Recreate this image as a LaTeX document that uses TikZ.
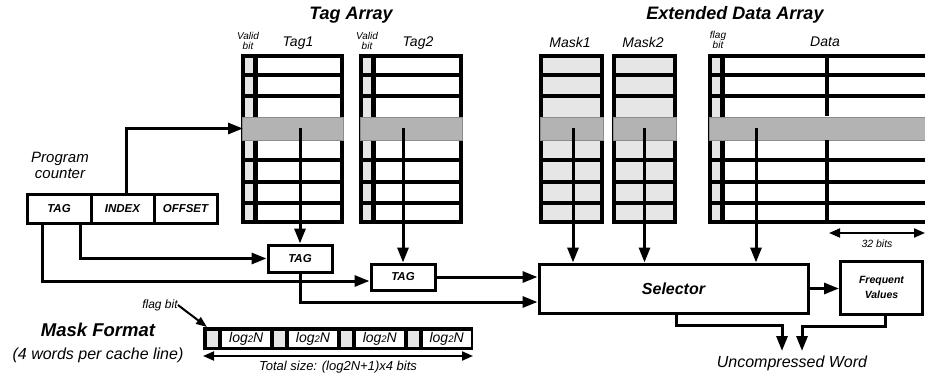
\documentclass[tikz,border=0pt]{standalone}
\usepackage{fontspec}
\setmainfont{Liberation Sans}
\usetikzlibrary{arrows.meta}
\definecolor{lg}{HTML}{E6E6E6}
\definecolor{bandg}{HTML}{B3B3B3}
\newcommand\fsz[1]{\fontsize{#1}{#1}\selectfont}
\newcommand\drawarr[5]{%
  \fill[#5] (#2,54) rectangle (#3,224);
  \ifnum#4=1\relax \fill[lg] (#2,54) rectangle ({#2+14},224);\fi
  \foreach \yy in {75.25,96.5,160.25,181.5,202.75} {\draw[rowline] (#2,\yy) -- (#3,\yy);}
  \ifnum#4=1\relax \draw[sepline] ({#2+14.5},54) -- ({#2+14.5},224);\fi
  \node[arrbox, minimum width={#3-#2-4}, minimum height=166] (#1) at ({(#2+#3)/2},139) {};
  \node[selband, minimum width={#3-#2-2}, minimum height=23] (#1band) at ({(#2+#3)/2},128.5) {};
}
\tikzset{
  rowline/.style={line width=4pt},
  sepline/.style={line width=5pt},
  arrbox/.style={draw, line width=4pt, inner sep=0pt, outer sep=0pt},
  selband/.style={fill=bandg, draw=black!45, line width=0.6pt, inner sep=0pt, outer sep=0pt},
  arrline/.style={line width=3pt, -{Triangle[length=15pt,width=11pt]}},
  dblarrow/.style={line width=2pt, {Triangle[length=11pt,width=9pt]}-{Triangle[length=11pt,width=9pt]}},
  thinarrow/.style={line width=2pt, -{Triangle[length=11pt,width=8pt]}},
  blkbox/.style={draw, line width=3pt, fill=white, inner sep=0pt},
  lbl/.style={inner sep=0pt, font=\itshape},
  title/.style={inner sep=0pt, font=\fsz{18}\bfseries\itshape},
}
\begin{document}
\begin{tikzpicture}[x=1pt,y=-1pt]
\useasboundingbox (0,0) rectangle (925,374);
\clip (0,0) rectangle (925,374);
\fill[white] (0,0) rectangle (925,374);

% titles
\node[title] (ttag) at (351,15) {Tag Array};
\node[title] (tdata) at (735,15) {Extended Data Array};

% column headers
\node[lbl, font=\fsz{14}\itshape] (h1) at (298,43) {Tag1};
\node[lbl, font=\fsz{14}\itshape] (h2) at (418,43) {Tag2};
\node[lbl, font=\fsz{14}\itshape] (h3) at (570,42) {Mask1};
\node[lbl, font=\fsz{14}\itshape] (h4) at (643,42) {Mask2};
\node[lbl, font=\fsz{14}\itshape] (h5) at (825,42) {Data};
\node[lbl, font=\fsz{10}\itshape, align=center] (v1) at (248,41) {Valid\\[0pt]bit};
\node[lbl, font=\fsz{10}\itshape, align=center] (v2) at (367,41) {Valid\\[0pt]bit};
\node[lbl, font=\fsz{10}\itshape, align=center] (v3) at (718,40) {flag\\[0pt]bit};

% arrays
\drawarr{tagone}{241}{344}{1}{white}
\drawarr{tagtwo}{359}{463}{1}{white}
\drawarr{maskone}{539}{604}{0}{lg}
\drawarr{masktwo}{612}{677}{0}{lg}
\drawarr{dataarr}{708}{945}{1}{white}
\draw[line width=4pt] (827,54) -- (827,116.5);
\draw[line width=4pt] (827,140.5) -- (827,224);

% program counter
\node[lbl, font=\fsz{15}\itshape, align=center] (pclbl) at (60,165) {Program\\[1pt]counter};
\node[blkbox, minimum width=64, minimum height=29, font=\fsz{11.5}\bfseries\itshape] (pctag) at (59,208.5) {TAG};
\node[blkbox, minimum width=63, minimum height=29, font=\fsz{11.5}\bfseries\itshape] (pcindex) at (122.5,208.5) {INDEX};
\node[blkbox, minimum width=63, minimum height=29, font=\fsz{11.5}\bfseries\itshape] (pcoffset) at (185.5,208.5) {OFFSET};

% compare boxes
\node[blkbox, minimum width=64, minimum height=27, font=\fsz{11.5}\bfseries\itshape] (tagA) at (300,258.5) {TAG};
\node[blkbox, minimum width=64, minimum height=26, font=\fsz{11.5}\bfseries\itshape] (tagB) at (403,277) {TAG};

% selector and frequent values
\node[blkbox, minimum width=269, minimum height=49, font=\fsz{16}\bfseries\itshape] (sel) at (673.5,288.5) {Selector};
\node[blkbox, minimum width=82, minimum height=53, font=\fsz{10.5}\bfseries\itshape, align=center] (freq) at (881.5,287.5) {Frequent\\[5pt]Values};

% connectors
\draw[arrline] ([xshift=3.5pt]pcindex.north) |- (tagone.west |- tagoneband.west);
\draw[arrline] ([xshift=-17pt]pctag.south) |- ([yshift=-4pt]tagB.west);
\draw[arrline] ([xshift=21pt]pctag.south) |- (tagA.west);
\draw[arrline] (tagoneband.center -| tagA.north) -- (tagA.north);
\draw[arrline] (tagtwoband.center -| tagB.north) -- (tagB.north);
\draw[arrline] (tagA.south) |- ([yshift=-13.5pt]sel.west);
\draw[arrline] (tagB.east) -- (tagB.east -| sel.west);
\draw[arrline] ([xshift=1.5pt]maskoneband.center) -- ([xshift=1.5pt]maskoneband.center |- sel.north);
\draw[arrline] (masktwoband.center) -- (masktwoband.center |- sel.north);
\coordinate (dsrc) at (756,128.5);
\draw[arrline] (dsrc) -- (dsrc |- sel.north);
\draw[arrline] (sel.east) -- (sel.east -| freq.west);

\coordinate (uwA) at (782,351);
\coordinate (uwB) at (802,351);
\draw[arrline] ([xshift=2.5pt]sel.south) -- ++(0,11) -| (uwA);
\draw[arrline] ([xshift=3.5pt]freq.south) -- ++(0,11) -| (uwB);
\node[lbl, font=\fsz{16}\itshape] (uw) at (792,363) {Uncompressed Word};

% 32 bits
\coordinate (b32a) at (829,233);
\coordinate (b32b) at (925,233);
\draw[dblarrow] (b32a) -- (b32b);
\node[lbl, font=\fsz{10.5}\itshape] (b32) at (877,244) {32 bits};

% mask format
\node[inner sep=0pt, font=\fsz{18.5}\bfseries\itshape] (mft) at (98,330) {Mask Format};
\node[lbl, font=\fsz{16}\itshape] (mfs) at (98,355) {(4 words per cache line)};
\node[fill=black, minimum width=270, minimum height=23, inner sep=0pt, outer sep=0pt] (mfbar) at (338,338.5) {};
\foreach \k in {0,1,2,3} {
  \node[fill=lg, minimum width=11, minimum height=16, inner sep=0pt, anchor=west] (fb\k) at ({207+66.8*\k},339) {};
  \node[fill=white, minimum width=48, minimum height=16, inner sep=0pt, anchor=west, font=\fsz{14}\itshape] (lc\k) at ({222+66.8*\k},339) {log{\fsz{9.5}2}N};
}
\node[lbl, font=\fsz{12}\itshape] (flaglbl) at (160,305) {flag bit};
\draw[thinarrow] (flaglbl.east) -- ([xshift=4pt]mfbar.north west);
\draw[dblarrow] ([yshift=-6pt]mfbar.south west) -- ([yshift=-6pt]mfbar.south east);
\node[lbl, font=\fsz{13}\itshape] (tsize) at (338,367) {Total size: (log2N+1)x4 bits};
\end{tikzpicture}
\end{document}
